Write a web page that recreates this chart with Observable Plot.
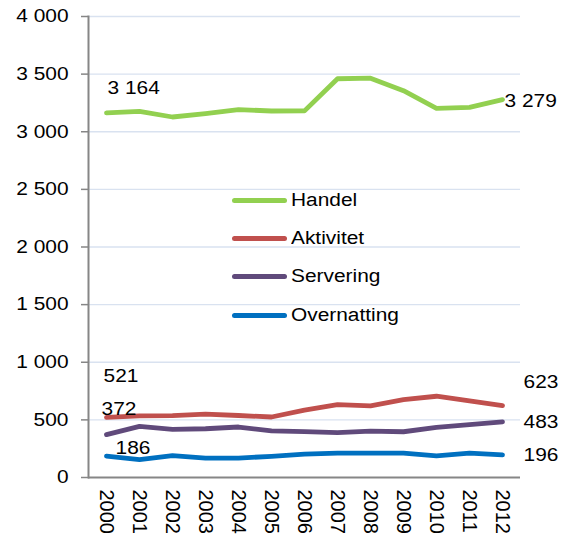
<!DOCTYPE html>
<html><head><meta charset="utf-8">
<script src="https://cdn.jsdelivr.net/npm/d3@7"></script>
<script src="https://cdn.jsdelivr.net/npm/@observablehq/plot@0.6"></script>
<style>
body{margin:0;background:#fff;font-family:"Liberation Sans",Arial,sans-serif;}
#wrap{position:relative;width:570px;height:537px;}
.legend{position:absolute;left:232px;top:181px;font-size:18px;color:#000;}
.legend .row{display:flex;align-items:center;height:38.4px;}
.legend .sw{width:55px;height:5px;border-radius:3px;margin-right:4px;}
.legend .tx{display:inline-block;transform:scaleX(1.16);transform-origin:left center;}
</style></head><body><div id="wrap"></div>
<script>
const years = [2000,2001,2002,2003,2004,2005,2006,2007,2008,2009,2010,2011,2012];
const seriesNames = ["Handel","Aktivitet","Servering","Overnatting"];
const handel      = [3164,3177,3128,3157,3192,3180,3181,3460,3465,3356,3203,3212,3279];
const aktivitet   = [521,535,537,550,538,525,585,633,622,675,705,664,623];
const servering   = [372,443,418,423,438,404,398,390,403,397,435,458,483];
const overnatting = [186,155,190,168,168,184,203,212,212,212,188,212,196];
const yTicks = [0,500,1000,1500,2000,2500,3000,3500,4000];

const seriesValues = [handel, aktivitet, servering, overnatting];
const colors = ["#92D050","#C0504D","#604A7B","#0070C0"];
const rows = seriesNames.flatMap((s,i)=>years.map((yr,j)=>({series:s, year:String(yr), value:seriesValues[i][j]})));

const fmt = d3.formatLocale({decimal:",", thousands:"\u00a0", grouping:[3], currency:["",""]}).format(",");

function label(si, yi, dx, dy){
  return Plot.text([{year:String(years[yi]), value:seriesValues[si][yi]}],
    {x:"year", y:"value", text:d=>fmt(d.value), textAnchor:"start", dx, dy, fontSize:18, fill:"#000"});
}

const chart = Plot.plot({
  width:570, height:537,
  marginLeft:88, marginRight:50, marginTop:16, marginBottom:60,
  style:{fontFamily:"'Liberation Sans', Arial, sans-serif", fontSize:"18px", color:"#000", background:"#fff", overflow:"visible"},
  x:{type:"point", domain:years.map(String), padding:0.5, label:null},
  y:{domain:[0,4000], label:null},
  color:{domain:seriesNames, range:colors},
  marks:[
    Plot.gridY(yTicks.filter(d=>d>0), {stroke:"#D9E2F0", strokeOpacity:1, strokeWidth:1.3}),
    Plot.axisY({ticks:yTicks, tickFormat:fmt, tickSize:7, tickPadding:13, stroke:"#868686", strokeWidth:1.5, fill:"#000", fontSize:18, label:null}),
    Plot.axisX({tickRotate:90, tickSize:0, tickPadding:12, fill:"#000", fontSize:20, label:null}),
    Plot.frame({anchor:"left", stroke:"#868686", strokeWidth:2}),
    Plot.ruleY([0], {stroke:"#868686", strokeWidth:2}),
    Plot.line(rows, {x:"year", y:"value", z:"series", stroke:"series", strokeWidth:4.8, strokeLinejoin:"round", strokeLinecap:"round"}),
    label(0, 0, 1, -25),
    label(0, 12, 2, 2),
    label(1, 0, -3, -41),
    label(2, 0, -5, -25),
    label(3, 0, 9, -8),
    label(1, 12, 21, -23),
    label(2, 12, 21, 0),
    label(3, 12, 21, 0)
  ]
});

const wrap = document.getElementById("wrap");
wrap.appendChild(chart);

// widen horizontal texts to match the reference's broad lettering
const xTexts = new Set(chart.querySelectorAll('g[aria-label="x-axis tick label"] text'));
chart.querySelectorAll("text").forEach(t=>{
  if (xTexts.has(t)) return;
  const L = t.getComputedTextLength();
  if (L > 0) { t.setAttribute("textLength", (L*1.16).toFixed(1)); t.setAttribute("lengthAdjust","spacingAndGlyphs"); }
});

const leg = document.createElement("div");
leg.className = "legend";
seriesNames.forEach((s,i)=>{
  const r = document.createElement("div"); r.className="row";
  const sw = document.createElement("div"); sw.className="sw"; sw.style.background = colors[i];
  const t = document.createElement("span"); t.className="tx"; t.textContent = s;
  r.appendChild(sw); r.appendChild(t); leg.appendChild(r);
});
wrap.appendChild(leg);
</script>
</body></html>
